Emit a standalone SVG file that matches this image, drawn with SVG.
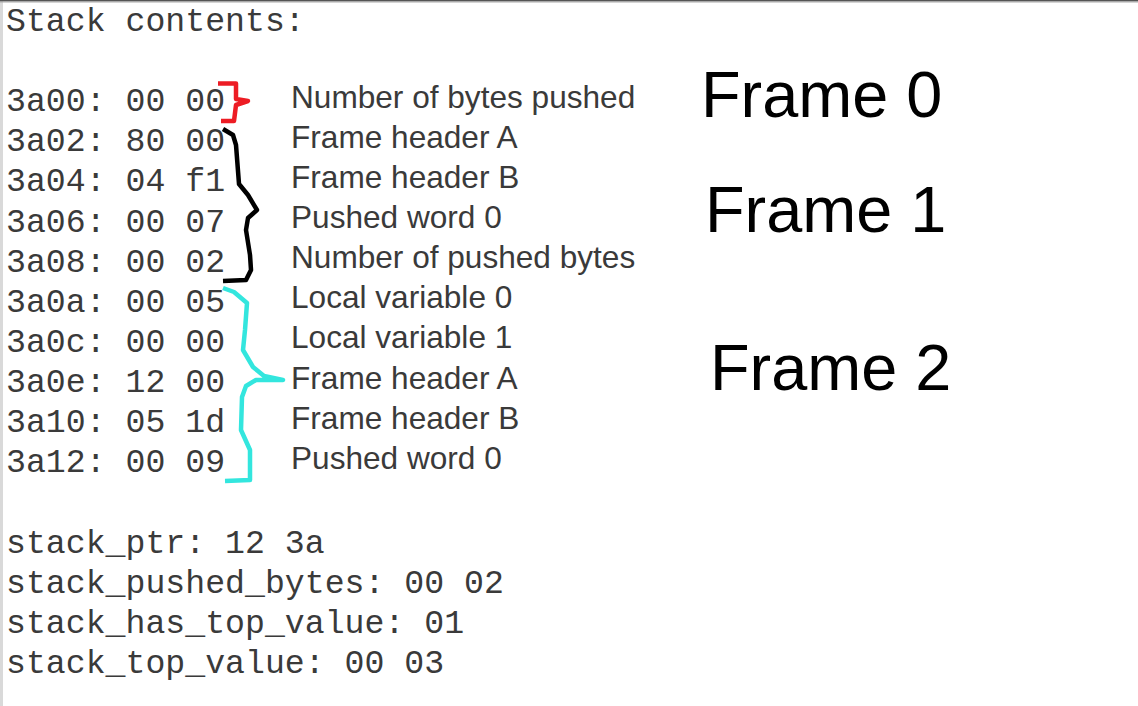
<svg xmlns="http://www.w3.org/2000/svg" width="1138" height="706" viewBox="0 0 1138 706">
<style>
.mono{font-family:"Liberation Mono","Courier New",monospace;font-size:33.2px;fill:#3a3a3a}
.lbl{font-family:"Liberation Sans",Arial,sans-serif;font-size:31.6px;fill:#3a3a3a}
.big{font-family:"Liberation Sans",Arial,sans-serif;font-size:64.8px;fill:#000}
.brace{fill:none;stroke-width:4.5;stroke-linejoin:round;stroke-linecap:butt}
</style>
<rect x="0" y="0" width="1138" height="706" fill="#fff"/>
<rect x="0" y="0" width="3" height="706" fill="#d9d9d9"/>
<rect x="0" y="0" width="1138" height="1.5" fill="#555"/>
<rect x="0" y="1.5" width="1138" height="1" fill="#aaa"/>
<g id="memory">
<text class="mono" x="6" y="30.5">Stack contents:</text>
<text class="mono" x="6" y="111">3a00: 00 00</text>
<text class="mono" x="6" y="151.2">3a02: 80 00</text>
<text class="mono" x="6" y="191.3">3a04: 04 f1</text>
<text class="mono" x="6" y="231.5">3a06: 00 07</text>
<text class="mono" x="6" y="271.6">3a08: 00 02</text>
<text class="mono" x="6" y="311.8">3a0a: 00 05</text>
<text class="mono" x="6" y="351.9">3a0c: 00 00</text>
<text class="mono" x="6" y="392.1">3a0e: 12 00</text>
<text class="mono" x="6" y="432.2">3a10: 05 1d</text>
<text class="mono" x="6" y="472.4">3a12: 00 09</text>
<text class="mono" x="6" y="552.7">stack_ptr: 12 3a</text>
<text class="mono" x="6" y="592.8">stack_pushed_bytes: 00 02</text>
<text class="mono" x="6" y="633">stack_has_top_value: 01</text>
<text class="mono" x="6" y="673.1">stack_top_value: 00 03</text>
</g>
<g id="labels">
<text class="lbl" x="291" y="107.5">Number of bytes pushed</text>
<text class="lbl" x="291" y="147.7">Frame header A</text>
<text class="lbl" x="291" y="187.8">Frame header B</text>
<text class="lbl" x="291" y="228">Pushed word 0</text>
<text class="lbl" x="291" y="268.1">Number of pushed bytes</text>
<text class="lbl" x="291" y="308.3">Local variable 0</text>
<text class="lbl" x="291" y="348.4">Local variable 1</text>
<text class="lbl" x="291" y="388.6">Frame header A</text>
<text class="lbl" x="291" y="428.7">Frame header B</text>
<text class="lbl" x="291" y="468.9">Pushed word 0</text>
</g>
<g id="frame0"><text class="big" x="701" y="117">Frame 0</text></g>
<g id="frame1"><text class="big" x="705" y="232">Frame 1</text></g>
<g id="frame2"><text class="big" x="710" y="390">Frame 2</text></g>
<g id="connectors">
<path class="brace" stroke="#ed1c24" d="M218,83.5 H236 V99 L248,101 L236,105 L234,121 H221"/>
<path class="brace" stroke="#000" d="M223,129 L233,135 L236,145 L239,184 L248,195 L257,210 L248,218 L246,230 L250,255 L251,270 L246,280 L223,281"/>
<path class="brace" stroke="#33e6de" d="M223,288 L234,292 L247,303 L245,330 L243,350 L253,367 L264,376 L283,380 L256,380 L246,386 L242,397 L241,430 L250,450 L250,480 L225,481"/>
</g>
</svg>
